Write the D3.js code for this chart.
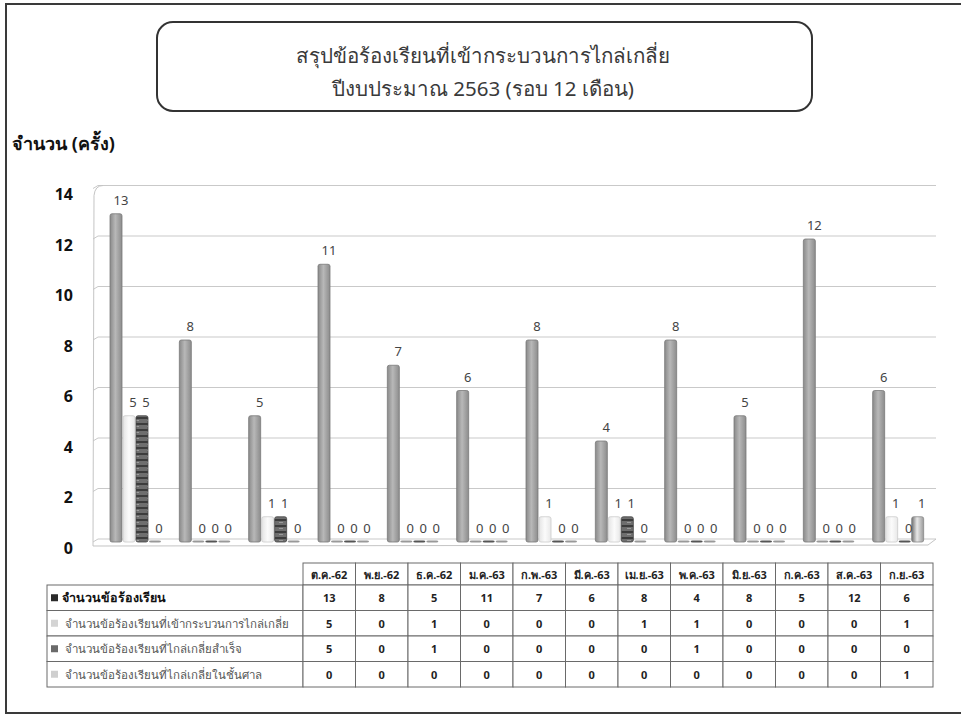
<!DOCTYPE html>
<html>
<head>
<meta charset="utf-8">
<script src="https://cdn.jsdelivr.net/npm/d3@7/dist/d3.min.js"></script>
<style>
  html, body { margin: 0; padding: 0; background: #fff; }
  svg { display: block; }
  text { font-family: "Noto Sans", "DejaVu Sans", sans-serif; }
</style>
</head>
<body>
<svg id="chart" width="961" height="721"></svg>
<script>
// ---- data ----
const months = ["ต.ค.-62", "พ.ย.-62", "ธ.ค.-62", "ม.ค.-63", "ก.พ.-63", "มี.ค.-63",
                "เม.ย.-63", "พ.ค.-63", "มิ.ย.-63", "ก.ค.-63", "ส.ค.-63", "ก.ย.-63"];
const seriesNames = [
  "จำนวนข้อร้องเรียน",
  "จำนวนข้อร้องเรียนที่เข้ากระบวนการไกล่เกลี่ย",
  "จำนวนข้อร้องเรียนที่ไกล่เกลี่ยสำเร็จ",
  "จำนวนข้อร้องเรียนที่ไกล่เกลี่ยในชั้นศาล"
];
const complaints = [13, 8, 5, 11, 7, 6, 8, 4, 8, 5, 12, 6];
const mediationEntered = [5, 0, 1, 0, 0, 0, 1, 1, 0, 0, 0, 1];
const mediationSuccess = [5, 0, 1, 0, 0, 0, 0, 1, 0, 0, 0, 0];
const mediationCourt = [0, 0, 0, 0, 0, 0, 0, 0, 0, 0, 0, 1];
const yTicks = [0, 2, 4, 6, 8, 10, 12, 14];
const titleLines = ["สรุปข้อร้องเรียนที่เข้ากระบวนการไกล่เกลี่ย", "ปีงบประมาณ 2563 (รอบ 12 เดือน)"];
const yTitle = "จำนวน (ครั้ง)";

const seriesValues = [complaints, mediationEntered, mediationSuccess, mediationCourt];

const svg = d3.select("#chart");
const defs = svg.append("defs");

// ---- frame ----
svg.append("rect").attr("x", 6).attr("y", 4).attr("width", 1000).attr("height", 709)
  .attr("fill", "none").attr("stroke", "#3a3a3a").attr("stroke-width", 2);

// ---- title box ----
svg.append("rect").attr("x", 157).attr("y", 22).attr("width", 655).attr("height", 89)
  .attr("rx", 16).attr("fill", "none").attr("stroke", "#333").attr("stroke-width", 2);
svg.selectAll("text.title").data(titleLines).join("text")
  .attr("class", "title")
  .attr("x", 483).attr("y", (d, i) => 63 + i * 33)
  .attr("text-anchor", "middle")
  .attr("font-size", 20.5).attr("fill", "#3a3a3a")
  .text(d => d);

svg.append("text").attr("x", 12).attr("y", 150)
  .attr("font-size", 18).attr("font-weight", "bold").attr("fill", "#111")
  .text(yTitle);

// ---- scales ----
const plotLeft = 97, plotRight = 929;
const y = d3.scaleLinear().domain([0, 14]).range([539, 185.5]);
const x0 = d3.scaleBand().domain(months).range([plotLeft, plotRight]);
const x1 = d3.scaleBand().domain(d3.range(4)).range([13, 65]);

// ---- 3D walls and gridlines ----
const grid = svg.append("g");
grid.selectAll("line.grid").data(yTicks).join("line")
  .attr("x1", plotLeft + 1).attr("x2", 936)
  .attr("y1", d => y(d)).attr("y2", d => y(d))
  .attr("stroke", "#c9c9c9").attr("stroke-width", 1);
grid.selectAll("line.stub").data(yTicks).join("line")
  .attr("x1", 93).attr("x2", plotLeft + 1)
  .attr("y1", d => y(d) + 3).attr("y2", d => y(d))
  .attr("stroke", "#c9c9c9").attr("stroke-width", 1);
grid.append("path")
  .attr("d", `M${plotLeft + 6},${y(14)} Q${plotLeft - 2},${y(14)} 94,${y(14) + 10} L93,${y(0) + 7}`)
  .attr("fill", "none").attr("stroke", "#c4c4c4");
grid.append("path")
  .attr("d", `M93,${y(0) + 7} L928,${y(0) + 6} L936,${y(0)}`)
  .attr("fill", "none").attr("stroke", "#c4c4c4");

// ---- y axis ----
const yAxis = svg.append("g").attr("transform", "translate(75,9)")
  .call(d3.axisLeft(y).tickValues(yTicks).tickSize(0).tickPadding(2));
yAxis.select(".domain").remove();
yAxis.selectAll("text")
  .attr("font-family", "'Liberation Sans', Arial, sans-serif")
  .attr("font-size", 16).attr("font-weight", "bold").attr("fill", "#111");

// ---- bar fills ----
function cyl(id, stops) {
  const g = defs.append("linearGradient").attr("id", id)
    .attr("x1", "0%").attr("x2", "100%").attr("y1", "0%").attr("y2", "0%");
  stops.forEach(([o, c]) => g.append("stop").attr("offset", o).attr("stop-color", c));
}
cyl("g0", [["0%", "#8a8a8a"], ["45%", "#b8b8b8"], ["100%", "#8c8c8c"]]);
cyl("g1", [["0%", "#e4e4e4"], ["50%", "#fbfbfb"], ["100%", "#e8e8e8"]]);
cyl("g3", [["0%", "#6f6f6f"], ["45%", "#e8e8e8"], ["100%", "#9a9a9a"]]);
const pat = defs.append("pattern").attr("id", "g2")
  .attr("patternUnits", "userSpaceOnUse").attr("width", 12).attr("height", 6);
pat.append("rect").attr("width", 12).attr("height", 6).attr("fill", "#6e6e6e");
pat.append("rect").attr("y", 0).attr("width", 12).attr("height", 2).attr("fill", "#3c3c3c");
pat.append("rect").attr("x", 3).attr("y", 3).attr("width", 4).attr("height", 1).attr("fill", "#9a9a9a");
const fills = ["url(#g0)", "url(#g1)", "url(#g2)", "url(#g3)"];
const strokes = ["#7a7a7a", "#cccccc", "#444", "#888"];

// ---- bars ----
const barData = [];
months.forEach((m, i) => seriesValues.forEach((vals, s) => barData.push({ m, s, v: vals[i] })));
const barW = 12;
const bars = svg.append("g").attr("transform", "translate(0,3)");
bars.selectAll("rect").data(barData).join("rect")
  .attr("x", d => x0(d.m) + x1(d.s))
  .attr("width", barW)
  .attr("y", d => d.v > 0 ? y(d.v) : y(0) - 1.5)
  .attr("height", d => d.v > 0 ? y(0) - y(d.v) : 2)
  .attr("rx", 2)
  .attr("fill", d => d.v > 0 ? fills[d.s] : (d.s === 2 ? "#555" : "#999"))
  .attr("stroke", d => d.v > 0 ? strokes[d.s] : "none")
  .attr("stroke-width", 0.8);

// ---- value labels ----
svg.append("g").selectAll("text").data(barData).join("text")
  .attr("x", d => x0(d.m) + x1(d.s) + barW / 2 + (d.s === 0 ? 5 : 4))
  .attr("y", d => y(d.v) - 6)
  .attr("text-anchor", "middle")
  .attr("font-family", "'DejaVu Sans', Verdana, sans-serif")
  .attr("font-size", 13).attr("fill", "#444")
  .text(d => d.v);

// ---- data table ----
const tLeft = 47, colLeft = 303, colRight = 933;
const headTop = 563, rowTop = 585, rowBottom = 687;
const xc = d3.scaleBand().domain(months).range([colLeft, colRight]);
const yr = d3.scaleBand().domain(d3.range(4)).range([rowTop, rowBottom]);
const tbl = svg.append("g");
const lineColor = "#6a6a6a";

// header cells
tbl.selectAll("rect.hd").data(months).join("rect")
  .attr("x", d => xc(d)).attr("y", headTop)
  .attr("width", xc.bandwidth()).attr("height", rowTop - headTop)
  .attr("fill", "#fff").attr("stroke", lineColor);
tbl.selectAll("text.hd").data(months).join("text")
  .attr("x", d => xc(d) + xc.bandwidth() / 2).attr("y", headTop + 15.5)
  .attr("text-anchor", "middle").attr("font-size", 11).attr("font-weight", "bold")
  .attr("fill", "#222").text(d => d);

// row label cells
tbl.selectAll("rect.lab").data(d3.range(4)).join("rect")
  .attr("x", tLeft).attr("y", d => yr(d))
  .attr("width", colLeft - tLeft).attr("height", yr.bandwidth())
  .attr("fill", "#fff").attr("stroke", lineColor);
const keyColors = ["#2a2a2a", "#d4d4d4", "#6a6a6a", "#cfcfcf"];
tbl.selectAll("rect.key").data(d3.range(4)).join("rect")
  .attr("x", 51).attr("y", d => yr(d) + yr.bandwidth() / 2 - 3.5)
  .attr("width", 7).attr("height", 7).attr("fill", d => keyColors[d]);
tbl.selectAll("text.lab").data(seriesNames).join("text")
  .attr("x", (d, i) => i === 0 ? 62 : 65).attr("y", (d, i) => yr(i) + yr.bandwidth() / 2 + 4.5)
  .attr("font-size", (d, i) => i === 0 ? 12.5 : 11.5).attr("font-weight", (d, i) => i === 0 ? "bold" : "normal")
  .attr("fill", (d, i) => i === 0 ? "#111" : "#555").text(d => d);

// value cells
const cellData = [];
seriesValues.forEach((vals, s) => months.forEach((m, i) => cellData.push({ s, m, v: vals[i] })));
tbl.selectAll("rect.cell").data(cellData).join("rect")
  .attr("x", d => xc(d.m)).attr("y", d => yr(d.s))
  .attr("width", xc.bandwidth()).attr("height", yr.bandwidth())
  .attr("fill", "#fff").attr("stroke", lineColor);
tbl.selectAll("text.cell").data(cellData).join("text")
  .attr("x", d => xc(d.m) + xc.bandwidth() / 2).attr("y", d => yr(d.s) + yr.bandwidth() / 2 + 4.5)
  .attr("text-anchor", "middle").attr("font-size", 11).attr("font-weight", "bold")
  .attr("fill", "#222").text(d => d.v);
</script>
</body>
</html>
